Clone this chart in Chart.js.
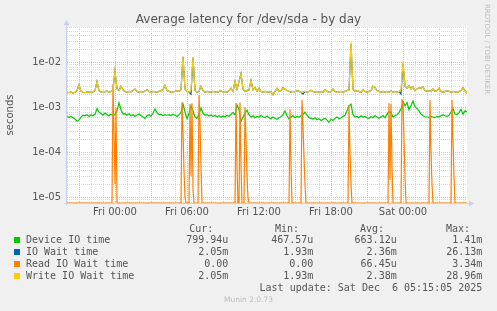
<!DOCTYPE html>
<html><head><meta charset="utf-8">
<script src="https://cdn.jsdelivr.net/npm/chart.js@4.4.1/dist/chart.umd.min.js"></script>
<style>
html,body{margin:0;padding:0;background:#f0f0f0;}
#wrap{position:relative;width:497px;height:311px;overflow:hidden;background:#f0f0f0;}
canvas{position:absolute;left:0;top:0;}
.t{position:absolute;white-space:pre;color:#555;}
.mono{font-family:'DejaVu Sans Mono',monospace;font-size:10px;line-height:12px;}
.sq{position:absolute;width:6px;height:6px;}
#title{left:0;width:497px;top:12px;text-align:center;font-family:'DejaVu Sans',sans-serif;font-size:12px;line-height:14px;color:#555;}
#rrd{left:483px;top:4px;writing-mode:vertical-rl;font-family:'DejaVu Sans',sans-serif;font-size:7px;line-height:8px;color:#bdbdbd;}
#munin{left:0;width:497px;top:295px;text-align:center;font-family:'DejaVu Sans',sans-serif;font-size:7.5px;line-height:10px;color:#bdbdbd;}
</style></head><body>
<div id="wrap">
<canvas id="c" width="497" height="311"></canvas>
<div class="t" id="title">Average latency for /dev/sda - by day</div>
<div class="t" id="rrd">RRDTOOL / TOBI OETIKER</div>
<div class="t" id="munin">Munin 2.0.73</div>
</div>
<script>
// ---- legend / stats ----
const seriesNames = ['Device IO time','IO Wait time','Read IO Wait time','Write IO Wait time'];
const seriesColors = ['#00cc00','#0066b3','#ff8000','#ffcc00'];
const curText = ['799.94u','2.05m','0.00','2.05m'];
const minText = ['467.57u','1.93m','0.00','1.93m'];
const avgText = ['663.12u','2.36m','66.45u','2.38m'];
const maxText = ['1.41m','26.13m','3.34m','28.96m'];
const lastUpdate = 'Last update: Sat Dec  6 05:15:05 2025';

// ---- tick labels ----
const xTickHours = [0,6,12,18,24];
const xTickLabels = ['Fri 00:00','Fri 06:00','Fri 12:00','Fri 18:00','Sat 00:00'];
const yTickValues = [1e-5,1e-4,1e-3,1e-2];
const yTickLabels = ['1e-05','1e-04','1e-03','1e-02'];

// ---- time base (hours relative to Fri 00:00) ----
const startHour = -4;          // Thu 20:00
const sampleStepHours = 1/6;   // 10 min samples
const readStepHours = 1/12;    // 5 min samples

// ---- series values (milliseconds) ----
const deviceIoMs = [
0.63,0.61,0.64,0.60,0.56,0.50,0.53,0.62,0.68,0.66,
0.70,0.64,0.69,0.66,0.72,0.95,0.80,0.74,0.68,0.76,
0.70,0.66,0.72,0.68,0.70,0.85,1.28,0.90,0.72,0.74,
0.68,0.73,0.66,0.70,0.64,0.69,0.72,0.67,0.62,0.58,
0.66,0.70,0.64,0.75,0.93,0.78,0.70,0.72,0.66,0.70,
0.68,0.70,0.66,0.72,0.68,0.64,0.70,0.78,1.22,0.80,
0.57,0.74,1.10,0.85,0.62,0.58,0.72,0.98,0.76,0.68,
0.70,0.65,0.69,0.64,0.67,0.63,0.66,0.62,0.65,0.63,
0.68,0.64,0.72,0.78,0.70,1.15,0.90,0.50,0.62,0.74,
0.88,0.70,0.62,0.66,0.60,0.64,0.62,0.67,0.63,0.60,
0.65,0.60,0.57,0.62,0.58,0.55,0.60,0.63,0.70,0.85,
0.66,0.56,0.62,0.66,0.60,0.64,0.62,0.66,0.70,0.80,
0.68,0.60,0.58,0.56,0.60,0.54,0.57,0.52,0.55,0.58,
0.53,0.47,0.56,0.52,0.58,0.62,0.57,0.60,0.64,0.68,
0.85,1.10,1.20,0.70,0.62,0.64,0.60,0.66,0.62,0.64,
0.60,0.58,0.63,0.60,0.66,0.62,0.58,0.63,0.66,0.60,
0.72,0.82,0.78,0.62,0.66,0.70,0.78,0.95,1.35,1.10,
1.30,0.90,1.10,1.41,1.05,0.95,0.85,0.72,0.66,0.63,
0.62,0.60,0.64,0.62,0.60,0.64,0.62,0.66,0.70,0.66,
0.64,0.68,0.80,0.95,0.72,0.70,0.78,0.92,0.72,0.85,
0.80];

const ioWaitMs = [
2.2,2.15,2.25,2.1,2.2,2.4,3.2,2.3,2.2,2.15,
2.25,2.2,2.3,2.2,2.4,3.8,2.4,2.2,2.3,2.25,
2.35,2.2,2.3,2.5,6.6,2.6,2.4,3.0,2.5,2.3,
2.2,2.3,2.25,2.4,2.6,2.3,2.2,2.3,2.2,2.35,
2.5,2.3,2.2,2.3,2.25,2.2,2.3,2.4,2.5,3.1,
2.4,2.3,2.2,2.25,2.3,2.4,2.3,2.5,13.6,2.6,
2.3,2.2,2.0,13.0,2.4,2.2,2.3,3.0,2.4,2.2,
2.3,2.25,2.2,2.3,2.25,2.2,2.3,2.4,2.2,2.3,
2.2,2.4,2.7,2.3,3.8,2.6,3.8,5.7,2.6,2.3,
2.4,2.5,4.0,2.5,2.8,2.3,2.7,2.3,2.2,2.3,
2.25,2.2,2.3,1.93,2.3,2.7,2.3,2.4,2.8,2.6,
2.4,2.3,2.2,2.3,2.25,2.4,2.3,2.2,2.0,2.3,
2.2,2.3,2.45,2.3,2.2,2.3,2.2,2.3,2.2,2.5,
2.3,2.2,2.3,2.6,2.3,2.2,2.25,2.3,2.2,2.3,
2.4,2.5,26.13,2.6,2.3,2.4,2.3,2.2,2.5,2.3,
2.2,2.3,2.4,3.0,2.8,2.4,2.3,2.2,2.3,2.2,
2.3,2.2,2.35,2.2,2.3,2.2,2.3,2.0,9.5,3.0,
2.7,3.1,2.6,2.9,2.4,2.6,2.8,2.7,2.9,2.4,
2.3,2.4,2.3,2.6,2.3,2.4,2.7,2.3,2.2,2.3,
2.4,2.3,2.2,2.3,2.25,2.2,2.3,2.4,2.8,2.4,
2.05];

const writeWaitMs = [
2.2,2.15,2.25,2.1,2.2,2.4,3.2,2.3,2.2,2.15,
2.25,2.2,2.3,2.2,2.4,3.8,2.4,2.2,2.3,2.25,
2.35,2.2,2.3,2.5,6.6,2.6,2.4,3.0,2.5,2.3,
2.2,2.3,2.25,2.4,2.6,2.3,2.2,2.3,2.2,2.35,
2.5,2.3,2.2,2.3,2.25,2.2,2.3,2.4,2.5,3.1,
2.4,2.3,2.2,2.25,2.3,2.4,2.3,2.5,13.6,2.6,
2.3,2.2,2.5,13.6,2.4,2.2,2.3,3.0,2.4,2.2,
2.3,2.25,2.2,2.3,2.25,2.2,2.3,2.4,2.2,2.3,
2.2,2.4,2.7,2.3,3.8,2.6,3.8,5.7,2.6,2.3,
2.4,2.5,4.0,2.5,2.8,2.3,2.7,2.3,2.2,2.3,
2.25,2.2,2.3,1.93,2.3,2.7,2.3,2.4,2.8,2.6,
2.4,2.3,2.2,2.3,2.25,2.4,2.3,2.2,2.3,2.3,
2.2,2.3,2.45,2.3,2.2,2.3,2.2,2.3,2.2,2.5,
2.3,2.2,2.3,2.6,2.3,2.2,2.25,2.3,2.2,2.3,
2.4,2.5,28.96,2.6,2.3,2.4,2.3,2.2,2.5,2.3,
2.2,2.3,2.4,3.0,2.8,2.4,2.3,2.2,2.3,2.2,
2.3,2.2,2.35,2.2,2.3,2.2,2.3,2.5,10.5,3.0,
2.7,3.1,2.6,2.9,2.4,2.6,2.8,2.7,2.9,2.4,
2.3,2.4,2.3,2.6,2.3,2.4,2.7,2.3,2.2,2.3,
2.4,2.3,2.2,2.3,2.25,2.2,2.3,2.4,2.8,2.4,
2.05];

// read wait: sparse 5-minute sample indices and values (ms)
const readSteps = [0,
45,46,47,48,49,50,
114,115,116,117,118,119,
122,123,124,125,126,127,
131,132,133,134,135,
168,169,170,171,
172,173,174,175,
177,178,179,180,181,182,
222,223,224,225,
234,235,236,237,238,239,
281,282,283,284,285,
321,322,323,324,325,326,
334,335,336,337,338,339,
362,363,364,365,366,
384,385,386,387,388,
400];
const readWaitMs = [0,
0,3.34,0.3,0.02,1.0,0,
0,1.3,0.3,0.04,0.01,0,
0,1.2,0.03,1.25,0.015,0,
0,1.9,0.5,0.05,0,
0,1.25,0.05,0,
0,1.3,0.05,0,
0,1.03,0.2,0.03,0.01,0,
0,0.92,0.05,0,
0,1.5,0.4,0.08,0.02,0,
0,1.15,0.1,0.02,0,
0,1.25,0.025,1.2,0.05,0,
0,1.48,1.4,0.2,0.03,0,
0,1.48,0.1,0.02,0,
0,1.48,0.2,0.03,0,
0];

// ---- build legend DOM ----
const wrap = document.getElementById('wrap');
function addText(txt, cls, css){ const d=document.createElement('div'); d.className='t '+cls; d.textContent=txt; Object.assign(d.style, css); wrap.appendChild(d); return d; }
const colRight = [268.7, 183.7, 100.3, 14.7];
const headRight = [283.7, 198, 113, 27];
['Cur:','Min:','Avg:','Max:'].forEach((h,i)=> addText(h,'mono',{right:headRight[i]+'px', top:'222.5px'}));
seriesNames.forEach((name,r)=>{
  const top = 233.8 + r*12;
  const sq = document.createElement('div'); sq.className='sq';
  Object.assign(sq.style,{left:'14px', top:(top+3.3)+'px', background:seriesColors[r]}); wrap.appendChild(sq);
  addText(name,'mono',{left:'26px', top:top+'px'});
  [curText,minText,avgText,maxText].forEach((col,c)=> addText(col[r],'mono',{right:colRight[c]+'px', top:top+'px'}));
});
addText(lastUpdate,'mono',{right:'14.7px', top:'281.5px'});

// ---- log scale that keeps zero values (drawn on the bottom edge, like rrdtool) ----
class LogZeroScale extends Chart.LogarithmicScale {
  parse(raw, index) {
    if (raw === 0) return 0;
    return super.parse(raw, index);
  }
}
LogZeroScale.id = 'logzero';
LogZeroScale.defaults = Chart.LogarithmicScale.defaults;
Chart.register(LogZeroScale);

// ---- chart ----
const toPoints = arr => arr.map((v,i)=>({x: startHour + i*sampleStepHours, y: v/1000}));
const readPoints = readSteps.map((k,j)=>({x: startHour + k*readStepHours, y: readWaitMs[j]/1000}));
const endHour = startHour + (deviceIoMs.length-1)*sampleStepHours;

const majorGrid = '#efb4b4';
const minorGrid = '#dadada';
const axisColor = '#c8cef0';
const isDecade = v => v>0 && Math.abs(Math.log10(v) - Math.round(Math.log10(v))) < 1e-6;

Chart.defaults.font.family = "'DejaVu Sans', sans-serif";
Chart.defaults.font.size = 10;
Chart.defaults.color = '#555';

const plotDecor = {
  id:'plotDecor',
  beforeDraw(chart){
    const {ctx, chartArea:a} = chart;
    ctx.save(); ctx.fillStyle='#ffffff';
    ctx.fillRect(a.left, a.top, a.right-a.left, a.bottom-a.top);
    ctx.restore();
  },
  afterDraw(chart){
    const {ctx, chartArea:a} = chart;
    ctx.save();
    ctx.strokeStyle = axisColor; ctx.fillStyle = axisColor; ctx.lineWidth = 1;
    const lx = Math.round(a.left)-0.5, by = Math.round(a.bottom)+0.5;
    ctx.beginPath();
    ctx.moveTo(lx, by+2); ctx.lineTo(lx, a.top-3);
    ctx.moveTo(lx-2, by); ctx.lineTo(a.right+3, by);
    ctx.stroke();
    ctx.beginPath(); ctx.moveTo(lx, a.top-7); ctx.lineTo(lx-3, a.top-2); ctx.lineTo(lx+3, a.top-2); ctx.closePath(); ctx.fill();
    ctx.beginPath(); ctx.moveTo(a.right+7, by); ctx.lineTo(a.right+2, by-3); ctx.lineTo(a.right+2, by+3); ctx.closePath(); ctx.fill();
    ctx.restore();
  }
};

new Chart(document.getElementById('c'), {
  type:'line',
  data:{ datasets:[
    {label:seriesNames[0], data:toPoints(deviceIoMs), borderColor:seriesColors[0], order:4},
    {label:seriesNames[1], data:toPoints(ioWaitMs), borderColor:seriesColors[1], order:3},
    {label:seriesNames[2], data:readPoints, borderColor:seriesColors[2], order:2},
    {label:seriesNames[3], data:toPoints(writeWaitMs), borderColor:seriesColors[3], order:1}
  ]},
  options:{
    responsive:false, animation:false, devicePixelRatio:1,
    elements:{ line:{borderWidth:1.2, tension:0}, point:{radius:0, hoverRadius:0} },
    layout:{ padding:{left:0, right:30, top:27, bottom:0} },
    plugins:{ legend:{display:false}, tooltip:{enabled:false}, title:{display:false} },
    events:[],
    scales:{
      x:{
        type:'linear', min:startHour, max:endHour,
        afterBuildTicks: s => { const t=[]; for(let h=Math.ceil(s.min); h<=Math.floor(s.max); h++) t.push({value:h}); s.ticks=t; },
        afterFit: s => { s.height = 108; },
        ticks:{ autoSkip:false, maxRotation:0, padding:3, color:'#555',
          callback: v => { const i = xTickHours.indexOf(Math.round(v)); return (i>=0 && Math.abs(v-Math.round(v))<1e-6) ? xTickLabels[i] : ''; } },
        grid:{ drawTicks:false, lineWidth:1,
          color: c => (c.tick && ((Math.round(c.tick.value)%3)+3)%3===0) ? majorGrid : minorGrid },
        border:{ display:false, dash:[1,1] }
      },
      y:{
        type:'logzero', min:7.62e-6, max:0.0621,
        afterBuildTicks: s => { const t=[]; for(let e=-6;e<=-1;e++) for(let m=1;m<=9;m++){ const v=m*Math.pow(10,e); if(v>=s.min && v<=s.max) t.push({value:v}); } s.ticks=t; },
        afterFit: s => { s.width = 67; },
        ticks:{ autoSkip:false, padding:6, color:'#555', major:{enabled:false},
          callback: v => { const i = yTickValues.findIndex(t => Math.abs(t-v)/t < 1e-6); return i>=0 ? yTickLabels[i] : ''; } },
        grid:{ drawTicks:false, lineWidth:1,
          color: c => (c.tick && isDecade(c.tick.value)) ? majorGrid : minorGrid },
        border:{ display:false, dash:[1,1] },
        title:{ display:true, text:'seconds', color:'#555', font:{size:10}, padding:{top:4,bottom:4} }
      }
    }
  },
  plugins:[plotDecor]
});
</script>
</body></html>
